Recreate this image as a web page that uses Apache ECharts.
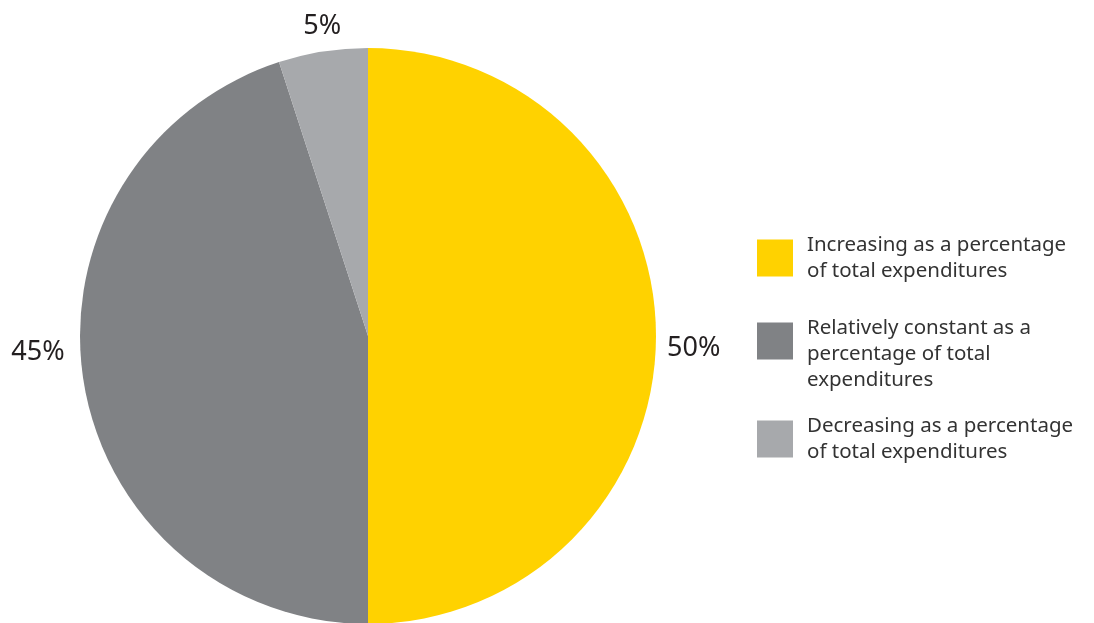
<!DOCTYPE html>
<html>
<head>
<meta charset="utf-8">
<script src="https://cdn.jsdelivr.net/npm/echarts@6/dist/echarts.min.js"></script>
<style>
  html, body { margin: 0; padding: 0; background: #ffffff; }
  #chart { width: 1094px; height: 623px; }
</style>
</head>
<body>
<div id="chart"></div>
<script>
// Share of expenditure categories by trend
const categories = [
  'Increasing as a percentage\nof total expenditures',
  'Relatively constant as a\npercentage of total\nexpenditures',
  'Decreasing as a percentage\nof total expenditures'
];
const values = [50, 45, 5];
const colors = ['#FFD200', '#808285', '#A7A9AC'];

const FONT = '"Noto Sans", "Liberation Sans", sans-serif';

const chart = echarts.init(document.getElementById('chart'), null, { renderer: 'canvas' });

// One legend block per category so each can sit at its own height;
// the three-line entry gets a leading blank line so its text starts at the swatch top
const legendTops = [232, 289, 413];
const legends = categories.map((name, i) => {
  const threeLines = name.split('\n').length > 2;
  return {
    orient: 'vertical',
    left: 757,
    top: legendTops[i],
    padding: 0,
    itemWidth: 36,
    itemHeight: 37,
    itemGap: 0,
    icon: 'rect',
    selectedMode: false,
    data: [name],
    formatter: n => (threeLines ? '\n' + n : n),
    textStyle: {
      fontFamily: FONT,
      fontSize: 20.5,
      lineHeight: 26,
      color: '#333333',
      padding: [0, 0, 0, 9]
    },
    itemStyle: { borderWidth: 0 }
  };
});

// Per-slice label nudges
const labelOffsets = [[-6, 12], [-2, -31], [25, -13]];

chart.setOption({
  animation: false,
  backgroundColor: '#ffffff',
  color: colors,
  legend: legends,
  series: [{
    type: 'pie',
    center: [368, 336],
    radius: [0, 288],
    startAngle: 90,
    clockwise: true,
    avoidLabelOverlap: false,
    itemStyle: { borderWidth: 0 },
    label: {
      show: true,
      position: 'outside',
      formatter: '{c}%',
      fontFamily: FONT,
      fontSize: 27,
      color: '#231f20'
    },
    labelLine: { show: false, length: 12, length2: 0 },
    emphasis: { disabled: true },
    data: categories.map((name, i) => ({
      name: name,
      value: values[i],
      label: { offset: labelOffsets[i] }
    }))
  }]
});
</script>
</body>
</html>
